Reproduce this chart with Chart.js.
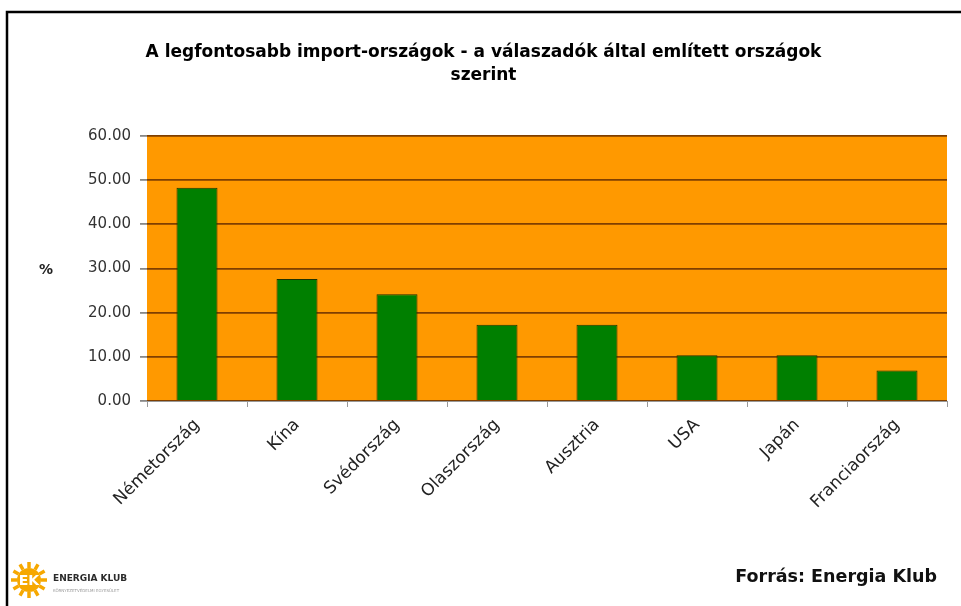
<!DOCTYPE html>
<html lang="hu">

<head>
    <meta charset="UTF-8">
    <title>A legfontosabb import-országok</title>
    <script src="https://cdn.jsdelivr.net/npm/chart.js@4.4.1/dist/chart.umd.min.js"></script>
    <style>
        html, body { margin: 0; padding: 0; background: #fff; }
        .wrap { position: relative; width: 961px; height: 606px; }
    </style>
</head>

<body>
    <div class="wrap">
        <canvas id="barChart" width="961" height="606"></canvas>
    </div>

    <script>
        // data (share of respondents, %)
        const countries = ['Németország', 'Kína', 'Svédország', 'Olaszország', 'Ausztria', 'USA', 'Japán', 'Franciaország'];
        const shares = [48.28, 27.59, 24.14, 17.24, 17.24, 10.34, 10.34, 6.90];
        const yTicks = [0, 10, 20, 30, 40, 50, 60];

        const titleLines = ['A legfontosabb import-országok - a válaszadók által említett országok', 'szerint'];
        const axisLabel = '%';
        const sourceText = 'Forrás: Energia Klub';
        const logoName = 'ENERGIA KLUB';
        const logoTagline = 'KÖRNYEZETVÉDELMI EGYESÜLET';

        const FONT = '"DejaVu Sans", Verdana, sans-serif';

        // orange plot area, black frame, "%" label, footer with logo
        const decorations = {
            id: 'decorations',
            beforeDraw(chart) {
                const { ctx, chartArea } = chart;
                ctx.save();
                ctx.fillStyle = '#ff9900';
                ctx.fillRect(chartArea.left, chartArea.top, chartArea.right - chartArea.left, chartArea.bottom - chartArea.top);

                ctx.strokeStyle = '#000';
                ctx.lineWidth = 2.5;
                ctx.beginPath();
                ctx.moveTo(7, chart.height);
                ctx.lineTo(7, 12);
                ctx.lineTo(chart.width, 12);
                ctx.stroke();
                ctx.restore();
            },
            afterDraw(chart) {
                const { ctx } = chart;
                const y = chart.scales.y;
                ctx.save();
                ctx.fillStyle = '#222';
                ctx.font = 'bold 14px ' + FONT;
                ctx.textAlign = 'center';
                ctx.textBaseline = 'middle';
                ctx.fillText(axisLabel, 46, y.getPixelForValue(30) + 2);

                // source
                ctx.fillStyle = '#111';
                ctx.font = 'bold 17.5px ' + FONT;
                ctx.textAlign = 'right';
                ctx.fillText(sourceText, 937, 577);

                // logo: small sun
                const cx = 29, cy = 580;
                ctx.fillStyle = '#f6a800';
                ctx.beginPath();
                ctx.arc(cx, cy, 12, 0, Math.PI * 2);
                ctx.fill();
                ctx.strokeStyle = '#f6a800';
                ctx.lineWidth = 3.5;
                for (let i = 0; i < 12; i++) {
                    const a = i * Math.PI / 6;
                    ctx.beginPath();
                    ctx.moveTo(cx + Math.cos(a) * 12, cy + Math.sin(a) * 12);
                    ctx.lineTo(cx + Math.cos(a) * 18, cy + Math.sin(a) * 18);
                    ctx.stroke();
                }
                ctx.fillStyle = '#fff';
                ctx.font = 'bold 14px ' + FONT;
                ctx.textAlign = 'center';
                ctx.fillText('EK', cx, cy + 1);

                ctx.fillStyle = '#2a2a2a';
                ctx.font = 'bold 9px ' + FONT;
                ctx.textAlign = 'left';
                ctx.fillText(logoName, 53, 579);
                ctx.fillStyle = '#999';
                ctx.font = '4px ' + FONT;
                ctx.fillText(logoTagline, 53, 591);
                ctx.restore();
            }
        };

        new Chart(document.getElementById('barChart'), {
            type: 'bar',
            data: {
                labels: countries,
                datasets: [{
                    data: shares,
                    backgroundColor: '#007f00',
                    borderColor: '#1f3300',
                    borderWidth: 1,
                    barPercentage: 0.41,
                    categoryPercentage: 1,
                }],
            },
            options: {
                responsive: false,
                animation: false,
                layout: { padding: { left: 20, right: 14, top: 0, bottom: 0 } },
                plugins: {
                    legend: { display: false },
                    tooltip: { enabled: false },
                    title: {
                        display: true,
                        text: titleLines,
                        color: '#000',
                        font: { family: FONT, size: 17, weight: 'bold', lineHeight: 1.35 },
                        padding: { top: 41, bottom: 49 },
                    },
                },
                scales: {
                    x: {
                        afterFit: (scale) => { scale.height = 205; },
                        grid: { offset: true, drawOnChartArea: false, tickLength: 6, color: '#999' },
                        border: { color: '#999', width: 1 },
                        ticks: {
                            color: '#222',
                            font: { family: FONT, size: 17 },
                            minRotation: 45,
                            maxRotation: 45,
                            padding: 8,
                        },
                    },
                    y: {
                        min: 0,
                        max: 60,
                        afterFit: (scale) => { scale.width = 127; },
                        afterBuildTicks: (scale) => { scale.ticks = yTicks.map(v => ({ value: v })); },
                        grid: { color: '#7f3f00', lineWidth: 1.8, tickLength: 7, tickColor: '#888' },
                        border: { display: false },
                        ticks: {
                            color: '#333',
                            font: { family: FONT, size: 15 },
                            padding: 9,
                            callback: (v) => Number(v).toFixed(2),
                        },
                    },
                },
            },
            plugins: [decorations],
        });
    </script>
</body>

</html>
